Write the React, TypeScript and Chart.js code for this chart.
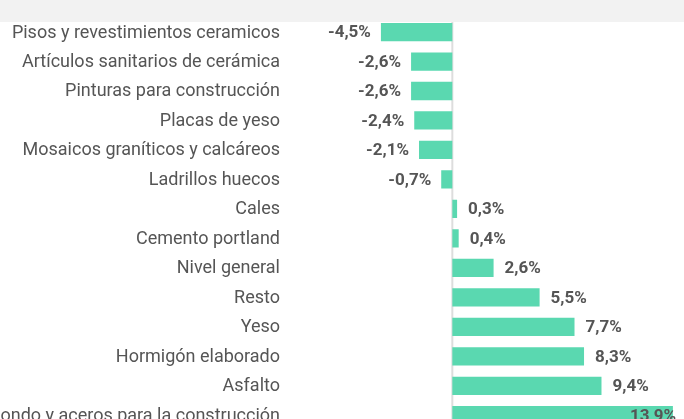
import React, { useEffect, useRef } from "react";
import { Chart, registerables } from "chart.js";

Chart.register(...registerables);

const categories = [
  "Pisos y revestimientos ceramicos",
  "Artículos sanitarios de cerámica",
  "Pinturas para construcción",
  "Placas de yeso",
  "Mosaicos graníticos y calcáreos",
  "Ladrillos huecos",
  "Cales",
  "Cemento portland",
  "Nivel general",
  "Resto",
  "Yeso",
  "Hormigón elaborado",
  "Asfalto",
  "Hierro redondo y aceros para la construcción",
];

const values = [-4.5, -2.6, -2.6, -2.4, -2.1, -0.7, 0.3, 0.4, 2.6, 5.5, 7.7, 8.3, 9.4, 13.9];

const BAR_COLOR = "#5ad8b0";
const TEXT_COLOR = "#555555";

const fmt = (v: number) => v.toFixed(1).replace(".", ",") + "%";

const extrasPlugin = {
  id: "extras",
  beforeDatasetsDraw(chart: any) {
    const { ctx, scales } = chart;
    const x0 = scales.x.getPixelForValue(0);
    ctx.save();
    ctx.strokeStyle = "#dddddd";
    ctx.lineWidth = 2;
    ctx.beginPath();
    ctx.moveTo(x0, 0);
    ctx.lineTo(x0, chart.height);
    ctx.stroke();
    ctx.restore();
  },
  afterDatasetsDraw(chart: any) {
    const { ctx, scales } = chart;
    const meta = chart.getDatasetMeta(0);
    ctx.save();
    ctx.textBaseline = "middle";
    // category labels
    ctx.font = "18px Roboto";
    ctx.fillStyle = TEXT_COLOR;
    ctx.textAlign = "right";
    categories.forEach((c, i) => {
      ctx.fillText(c, 280, scales.y.getPixelForValue(i) + 1);
    });
    // value labels
    ctx.font = "bold 17px Roboto";
    meta.data.forEach((bar: any, i: number) => {
      const v = values[i];
      const t = fmt(v);
      if (v < 0) {
        ctx.textAlign = "right";
        ctx.fillText(t, bar.x - 10, bar.y + 1);
      } else {
        const w = ctx.measureText(t).width;
        let x = bar.x + 11;
        if (x + w > chart.width - 8) x = chart.width - 8 - w;
        ctx.textAlign = "left";
        ctx.fillText(t, x, bar.y + 1);
      }
    });
    ctx.restore();
  },
  afterDraw(chart: any) {
    const { ctx } = chart;
    ctx.save();
    ctx.fillStyle = "#f2f2f2";
    ctx.fillRect(0, 0, chart.width, 22);
    ctx.restore();
  },
};

export default function App() {
  const ref = useRef<HTMLCanvasElement>(null);
  useEffect(() => {
    if (!ref.current) return;
    const chart = new Chart(ref.current, {
      type: "bar",
      data: {
        labels: categories,
        datasets: [
          {
            data: values,
            backgroundColor: BAR_COLOR,
            borderWidth: 0,
            barPercentage: 0.62,
            categoryPercentage: 1,
          },
        ],
      },
      options: {
        indexAxis: "y",
        responsive: false,
        animation: false,
        layout: { padding: { top: 17.3, bottom: 0, left: 300, right: 0 } },
        plugins: { legend: { display: false }, tooltip: { enabled: false } },
        scales: {
          x: { display: false, min: -9.6, max: 14.6 },
          y: { display: false },
        },
      },
      plugins: [extrasPlugin],
    });
    return () => chart.destroy();
  }, []);
  return (
    <div style={{ position: "fixed", left: 0, top: 0, width: 684, height: 419, overflow: "hidden", background: "#fff" }}>
      <canvas ref={ref} width={684} height={430} style={{ display: "block", width: 684, height: 430 }} />
    </div>
  );
}
